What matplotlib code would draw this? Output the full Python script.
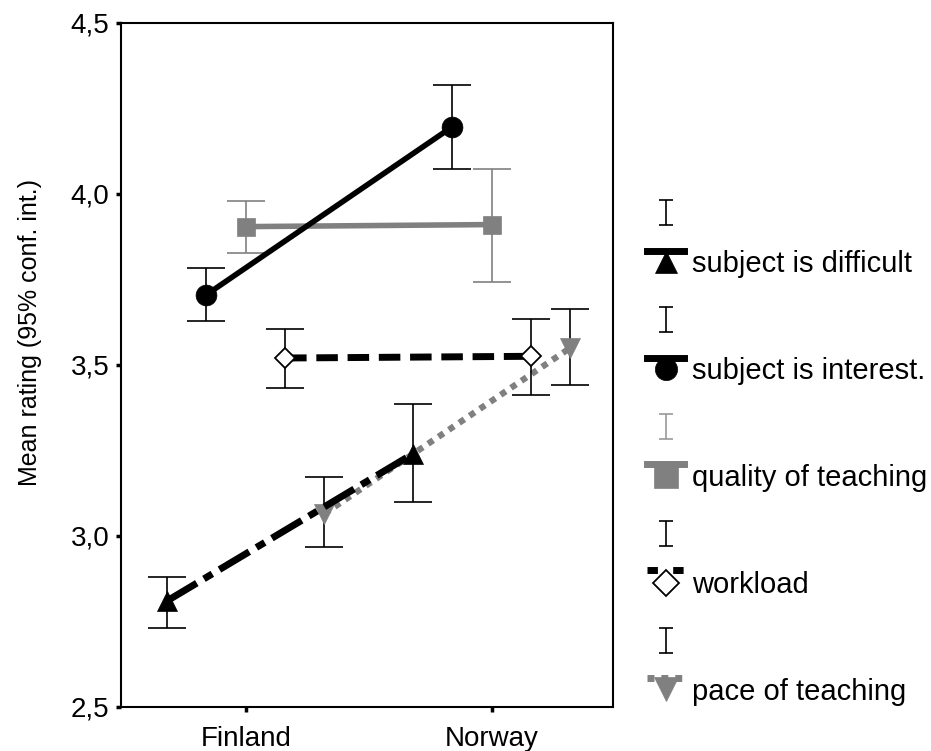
import numpy as np
import matplotlib
matplotlib.use('Agg')
import matplotlib.pyplot as plt
from matplotlib.lines import Line2D
from matplotlib.path import Path
from matplotlib.legend_handler import HandlerLine2DCompound
from matplotlib.ticker import FuncFormatter

plt.rcParams['font.family'] = ['Liberation Sans', 'DejaVu Sans']

countries = ['Finland', 'Norway']
series_names = ['subject is difficult', 'subject is interest.', 'quality of teaching',
                'workload', 'pace of teaching']

# means and 95% CI bounds, Finland / Norway
difficult_mean = [2.81, 3.24]
difficult_low = [2.73, 3.10]
difficult_high = [2.88, 3.385]
interest_mean = [3.705, 4.196]
interest_low = [3.628, 4.073]
interest_high = [3.782, 4.319]
quality_mean = [3.904, 3.910]
quality_low = [3.828, 3.741]
quality_high = [3.979, 4.073]
workload_mean = [3.520, 3.525]
workload_low = [3.431, 3.413]
workload_high = [3.606, 3.635]
pace_mean = [3.065, 3.55]
pace_low = [2.968, 3.442]
pace_high = [3.173, 3.663]

GREY = '#808080'

# style per series: offset, color, marker, ms, linestyle, lw, face, zorder
styles = [
    dict(off=-0.32, color='black', marker='^', ms=15, ls=(0, (5, 1.2, 1.4, 1.2)), lw=5, mfc='black', z=4),
    dict(off=-0.16, color='black', marker='o', ms=15, ls='-', lw=4, mfc='black', z=5),
    dict(off=0.0, color=GREY, marker='s', ms=12.7, ls='-', lw=4, mfc=GREY, z=2),
    dict(off=0.16, color='black', marker='D', ms=10.5, ls=(0, (3.1, 1.4)), lw=5, mfc='white', z=3),
    dict(off=0.32, color=GREY, marker='v', ms=14.5, ls=(0, (1, 1)), lw=4.5, mfc=GREY, z=2),
]
means = [difficult_mean, interest_mean, quality_mean, workload_mean, pace_mean]
lows = [difficult_low, interest_low, quality_low, workload_low, pace_low]
highs = [difficult_high, interest_high, quality_high, workload_high, pace_high]

fig = plt.figure(figsize=(9.31, 7.51), dpi=100)
ax = fig.add_axes([121 / 931, 44 / 751, (613 - 121) / 931, (707 - 22.7) / 751])

base = np.arange(len(countries))
for st, m, lo, hi in zip(styles, means, lows, highs):
    x = base + st['off']
    m = np.array(m)
    err = np.vstack([m - np.array(lo), np.array(hi) - m])
    ecol = GREY if st['marker'] == 's' else 'black'
    ax.errorbar(x, m, yerr=err, fmt='none', ecolor=ecol, elinewidth=1.2,
                capsize=14, capthick=1.2, zorder=st['z'])
    mec = 'black' if st['mfc'] == 'white' else st['color']
    ax.plot(x, m, color=st['color'], linestyle=st['ls'], linewidth=st['lw'],
            marker=st['marker'], markersize=st['ms'], markerfacecolor=st['mfc'],
            markeredgecolor=mec, markeredgewidth=1.3 if st['mfc'] == 'white' else 0.5,
            dash_capstyle='butt', zorder=st['z'] + 0.5)

ax.set_xlim(-0.507, 1.493)
ax.set_ylim(2.5, 4.5)
ax.set_xticks(base)
ax.set_xticklabels(countries)
ax.set_yticks([2.5, 3.0, 3.5, 4.0, 4.5])
ax.yaxis.set_major_formatter(FuncFormatter(lambda v, p: f'{v:.1f}'.replace('.', ',')))
ax.tick_params(axis='both', direction='out', length=3.5, width=2.5, labelsize=20, pad=5)
ax.tick_params(axis='x', pad=10)
for sp in ax.spines.values():
    sp.set_linewidth(1.5)
ax.set_ylabel('Mean rating (95% conf. int.)', fontsize=18)
ax.yaxis.set_label_coords(-0.1606, 0.548)


class TopBarHandler(HandlerLine2DCompound):
    # SPSS style legend: the line sits on top of the marker
    def __init__(self, lift, **kw):
        super().__init__(**kw)
        self.lift = lift

    def create_artists(self, legend, orig_handle, xdescent, ydescent, width, height,
                       fontsize, trans):
        line, mark = super().create_artists(legend, orig_handle, xdescent, ydescent,
                                            width, height, fontsize, trans)
        line.set_ydata(np.asarray(line.get_ydata()) + self.lift)
        return [mark, line]


ibar = Path([(-0.38, -1), (0.38, -1), (0, -1), (0, 0.45), (-0.38, 0.45), (0.38, 0.45)],
            [Path.MOVETO, Path.LINETO, Path.MOVETO, Path.LINETO, Path.MOVETO, Path.LINETO])

leg_ms = [16, 16, 17, 13, 17]
leg_lift = [8, 8, 8.5, 9, 8.5]
leg_ls = ['-', '-', '-', (0, (1.5, 2.2)), (0, (1, 1))]
handles, labels, hmap = [], [], {}
for st, name, lms, lift, lls in zip(styles, series_names, leg_ms, leg_lift, leg_ls):
    icol = '#999999' if st['marker'] == 's' else 'black'
    ih = Line2D([], [], linestyle='none', marker=ibar, markersize=24.8,
                markerfacecolor='none', markeredgecolor=icol, markeredgewidth=1.2)
    mec = 'black' if st['mfc'] == 'white' else st['color']
    lh = Line2D([], [], color=st['color'], linestyle=lls, linewidth=5,
                marker=st['marker'], markersize=lms, markerfacecolor=st['mfc'],
                markeredgecolor=mec, markeredgewidth=1.3 if st['mfc'] == 'white' else 0.5,
                dash_capstyle='butt')
    handles += [ih, lh]
    labels += ['', name]
    hmap[lh] = TopBarHandler(lift)

fig.legend(handles, labels, handler_map=hmap, loc='upper left',
           bbox_to_anchor=(647 / 931, 1 - 196.5 / 751), frameon=False, fontsize=21,
           handlelength=1.27, handletextpad=0.29, labelspacing=0.873, borderpad=0,
           borderaxespad=0)

fig.savefig('out.png', dpi=100)
